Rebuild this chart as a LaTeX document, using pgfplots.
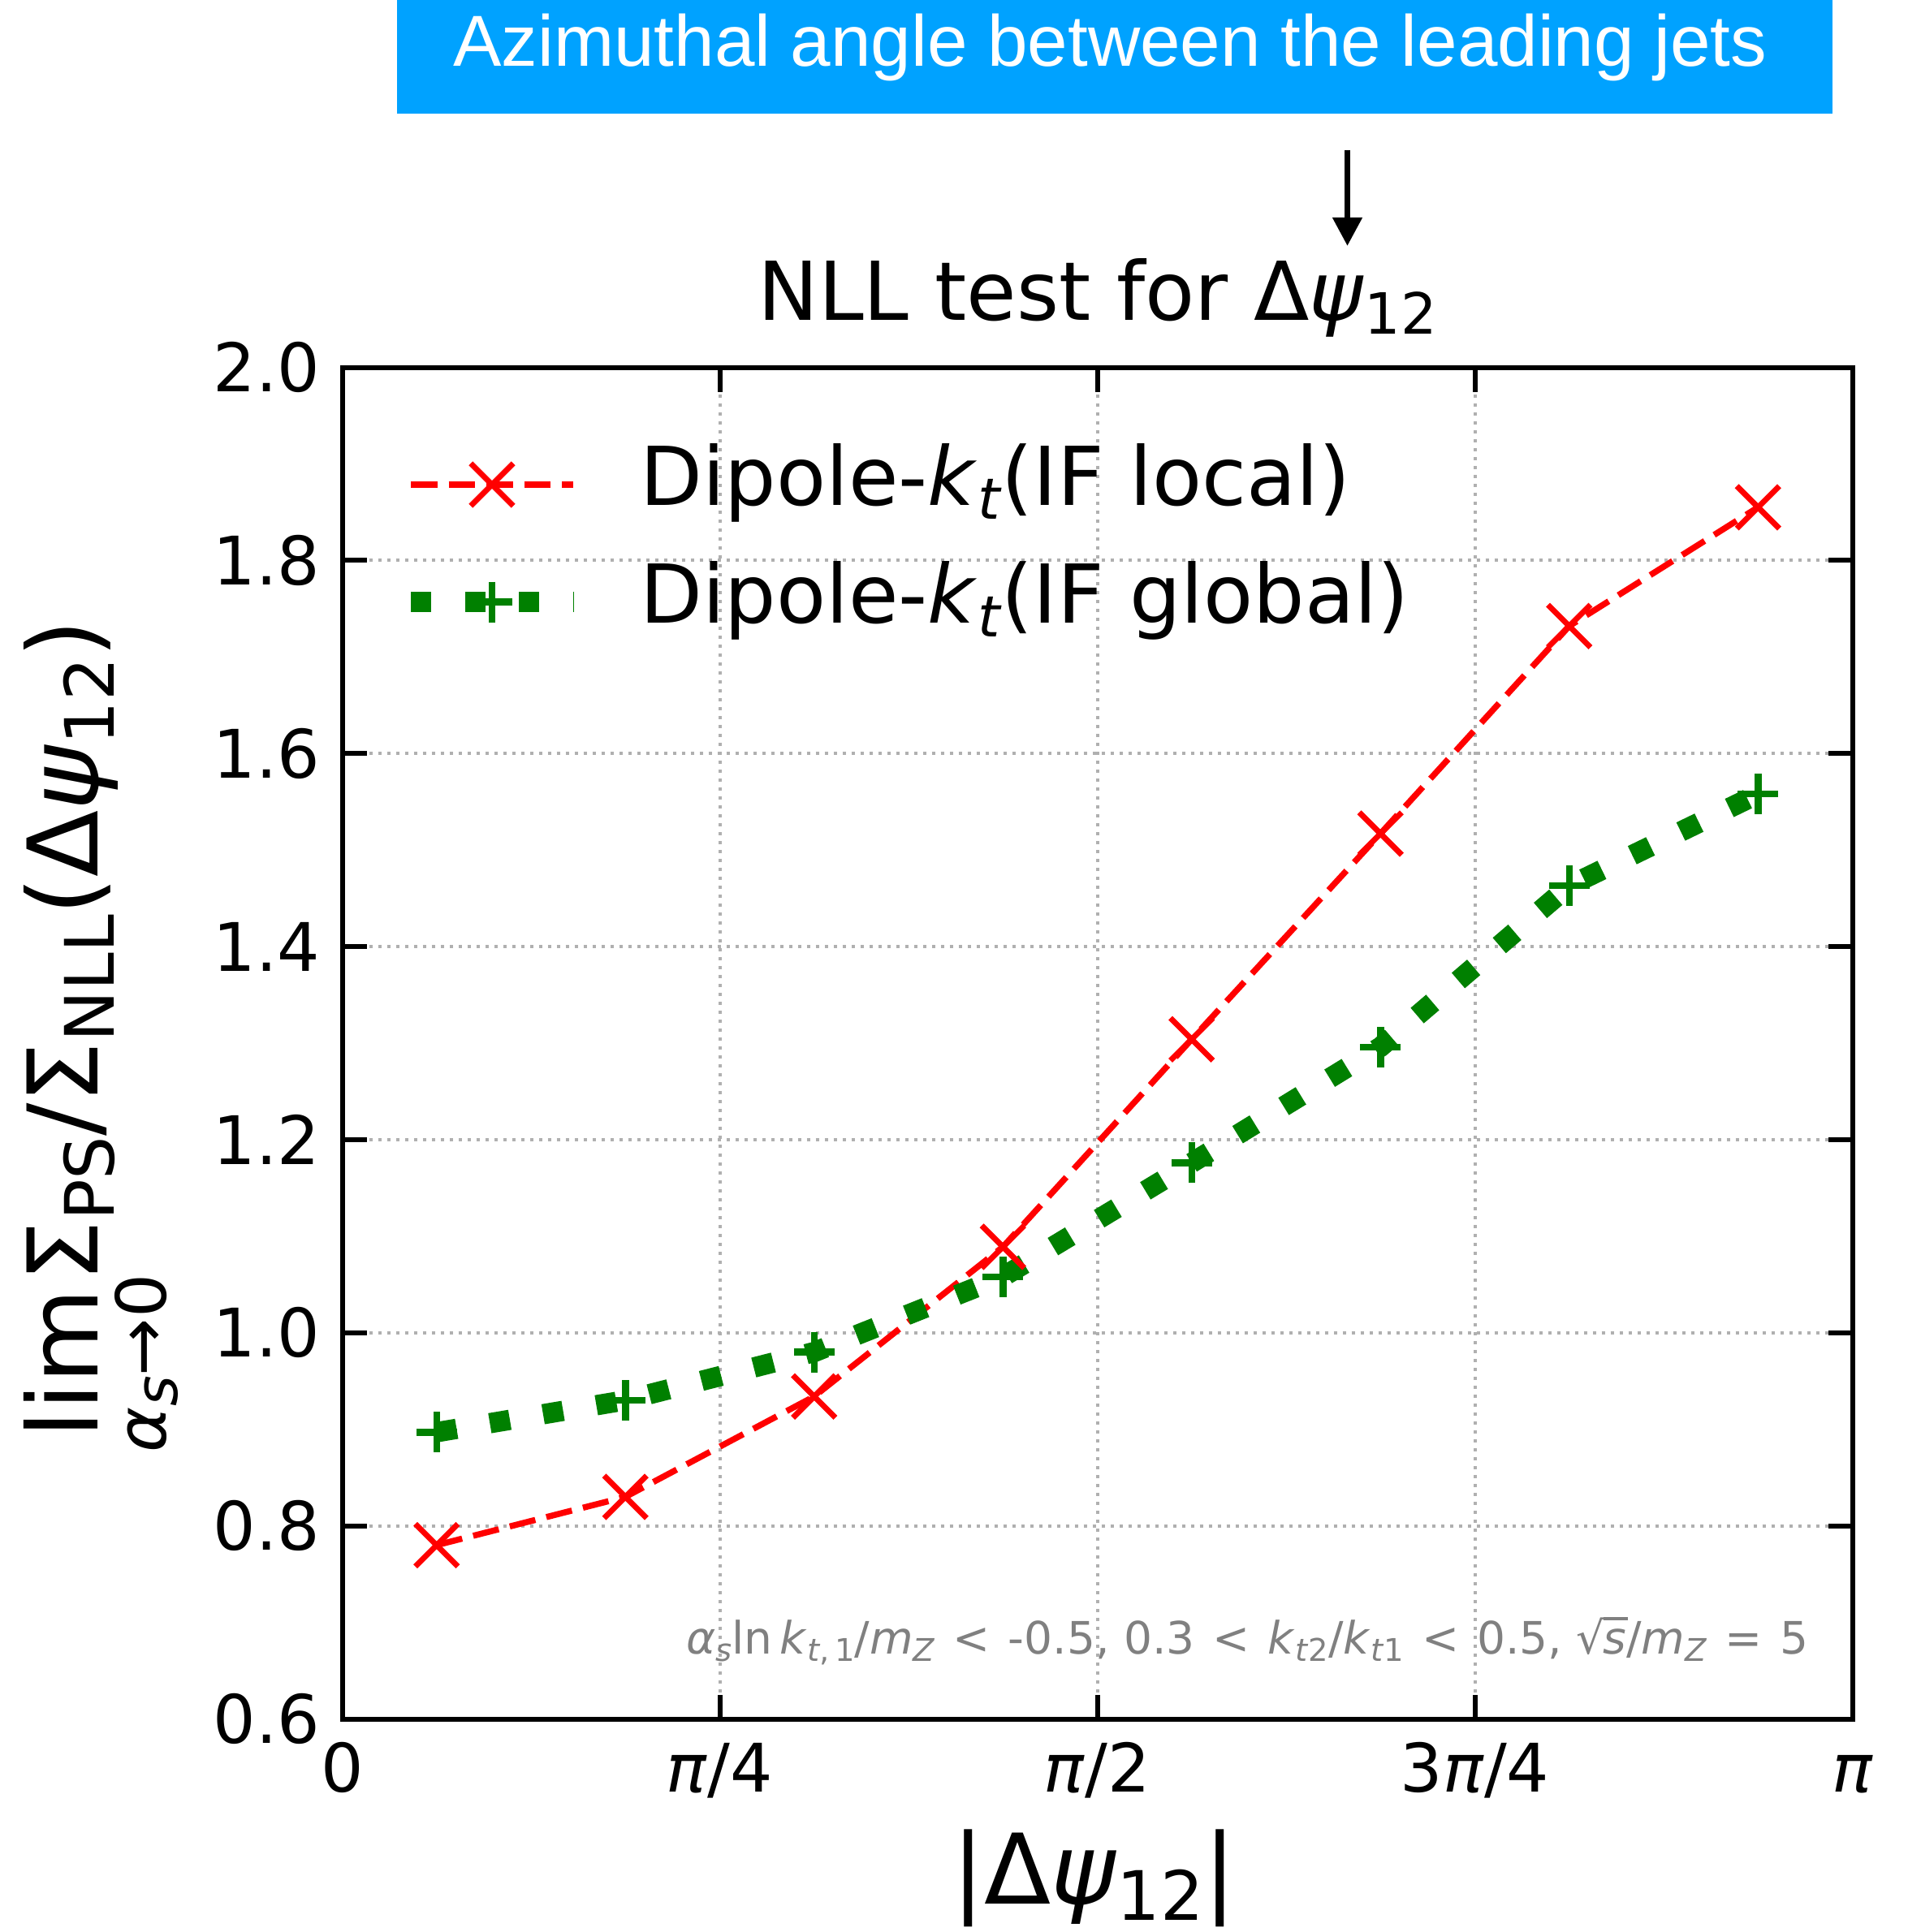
\documentclass[border=0pt]{standalone}
\usepackage{pgfplots}
\pgfplotsset{compat=1.18}
\usepackage{fontspec}
\setmainfont{DejaVu Sans}
\newfontfamily\bannerfont{Liberation Sans}
\usetikzlibrary{arrows.meta}

\definecolor{bannerblue}{RGB}{0,162,255}
\definecolor{mplgreen}{RGB}{0,128,0}
\definecolor{mplred}{RGB}{255,0,0}
\definecolor{gridgray}{RGB}{176,176,176}
\definecolor{notegray}{RGB}{128,128,128}

\makeatletter
% lowered, shrunk subscript in the current text font
\newcommand\sbs[1]{\raisebox{-0.17em}{\fontsize{\fpeval{0.7*\f@size}}{\fpeval{0.7*\f@size}}\selectfont #1}}
\makeatother

% lim with its subscript set underneath
\newcommand\limpart{\vtop{\baselineskip=16.7pt\lineskiplimit=-100pt\lineskip=0pt
  \halign{\hfil##\hfil\cr lim\cr
  \fontsize{17}{17}\selectfont\textit{α}\raisebox{-0.17em}{\fontsize{14.5}{14.5}\selectfont\textit{s}}→0\cr}}}
\newcommand\ylab{\fontsize{24}{28}\selectfont\limpart\kern-0.08em Σ\sbs{PS}/Σ\sbs{NLL}(Δ\textit{ψ}\sbs{12})}
\newcommand\sqrts{√\kern-0.04em\rlap{\rule[0.76em]{0.56em}{0.06em}}\textit{s}}
\newcommand\rel[1]{\hspace{0.4em}#1\hspace{0.4em}}

\pgfplotstableread{
x        y
0.196350 0.780
0.589049 0.830
0.981748 0.934
1.374447 1.089
1.767146 1.304
2.159845 1.517
2.552544 1.732
2.945243 1.855
}\iflocal

\pgfplotstableread{
x        y
0.196350 0.897
0.589049 0.930
0.981748 0.980
1.374447 1.058
1.767146 1.176
2.159845 1.296
2.552544 1.463
2.945243 1.558
}\ifglobal

\begin{document}
\begin{tikzpicture}
\useasboundingbox (0pt,0pt) rectangle (470pt,-476pt);

% banner with the observable name
\fill[bannerblue] (97.8pt,0pt) rectangle (451.4pt,-28.1pt);
\node[anchor=base, inner sep=0pt, text=white, font=\bannerfont\fontsize{17.8}{20}\selectfont]
  at (273.5pt,-16.3pt) {Azimuthal angle between the leading jets};
\draw[line width=1.5pt, -{Triangle[length=7pt, width=7pt]}] (331.9pt,-37pt) -- (331.9pt,-60.6pt);

\begin{axis}[
  at={(84.3pt,-423.5pt)}, anchor=south west,
  scale only axis, width=372pt, height=333pt,
  xmin=0, xmax=3.14159265, ymin=0.6, ymax=2.0,
  xtick={0,0.785398,1.570796,2.356194,3.141593},
  xticklabels={0,\textit{π}/4,\textit{π}/2,3\textit{π}/4,\textit{π}},
  ytick={0.6,0.8,1.0,1.2,1.4,1.6,1.8,2.0},
  yticklabels={0.6,0.8,1.0,1.2,1.4,1.6,1.8,2.0},
  tick label style={font=\fontsize{16.5}{19}\selectfont},
  xticklabel style={yshift=-2pt, text height=12.5pt, text depth=3.5pt},
  yticklabel style={xshift=-2pt},
  tick align=inside,
  major tick length=6pt,
  tick style={black, line width=1.2pt},
  axis line style={line width=1.2pt},
  grid=major,
  major grid style={draw=gridgray, line width=0.8pt, dash pattern=on 0.8pt off 1.4pt},
  legend cell align=left,
  legend style={draw=none, fill=none, inner sep=0pt, outer sep=0pt,
    at={(0,1)}, anchor=north west, xshift=14.4pt, yshift=-18.8pt,
    row sep=8.7pt, column sep=0pt,
    font=\fontsize{20}{24}\selectfont,
    nodes={inner sep=0pt, text height=15.2pt, text depth=5pt}},
  legend image code/.code={
    \draw[#1] (0pt,0pt) -- (40pt,0pt);
    \draw[#1] plot coordinates {(20pt,0pt)};
    \path (53.9pt,0pt);
  },
]
\addplot[mplred, line width=1.5pt, dash pattern=on 6.5pt off 2.8pt,
  mark=x, mark size=7.4pt, mark options={solid, line width=1.4pt}]
  table[x=x, y=y] {\iflocal};
\addlegendentry{Dipole-\textit{k}\sbs{\textit{t}}(IF local)}
\addplot[mplgreen, line width=5pt, dash pattern=on 5pt off 8.3pt,
  mark=+, mark size=5pt, mark options={solid, line width=1.7pt}]
  table[x=x, y=y] {\ifglobal};
\addlegendentry{Dipole-\textit{k}\sbs{\textit{t}}(IF global)}
\end{axis}

% titles and axis labels
\node[anchor=base, inner sep=0pt, font=\fontsize{20}{24}\selectfont]
  at (270.3pt,-79pt) {NLL test for Δ\textit{ψ}\sbs{12}};
\node[anchor=base, inner sep=0pt, font=\fontsize{24}{28}\selectfont]
  at (269.5pt,-469pt) {|Δ\textit{ψ}\sbs{12}|};
\node[rotate=90, anchor=base west, inner sep=0pt] at (24.1pt,-358pt) {\ylab};

% selection cuts
\node[anchor=base east, inner sep=0pt, text=notegray, font=\fontsize{11}{13}\selectfont]
  at (445.7pt,-407.5pt)
  {\textit{α}\sbs{\textit{s}}ln\,\textit{k}\sbs{\textit{t},\,1}/\textit{m}\sbs{\textit{Z}}\rel{<}-0.5, 0.3\rel{<}\textit{k}\sbs{\textit{t}2}/\textit{k}\sbs{\textit{t}1}\rel{<}0.5, \sqrts/\textit{m}\sbs{\textit{Z}}\rel{=}5};
\end{tikzpicture}
\end{document}
